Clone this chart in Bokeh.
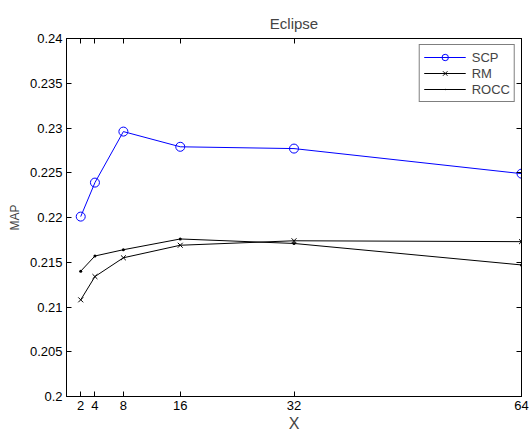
from bokeh.plotting import figure
from bokeh.models import Range1d, LinearAxis, FixedTicker, Legend, LegendItem, CustomJSTickFormatter
from bokeh.embed import file_html
from bokeh.resources import INLINE

x_vals = [2, 4, 8, 16, 32, 64]
scp = [0.2201, 0.2239, 0.2296, 0.2279, 0.2277, 0.2249]
rm = [0.2108, 0.2134, 0.2155, 0.2169, 0.2174, 0.2173]
rocc = [0.2140, 0.2157, 0.2164, 0.2176, 0.2171, 0.2147]
y_ticks = [0.2, 0.205, 0.21, 0.215, 0.22, 0.225, 0.23, 0.235, 0.24]
y_labels = ["0.2", "0.205", "0.21", "0.215", "0.22", "0.225", "0.23", "0.235", "0.24"]

FONT = "Liberation Sans"

p = figure(width=530, height=434, output_backend="svg", toolbar_location=None,
           x_range=Range1d(0, 64), y_range=Range1d(0.2, 0.24),
           min_border_left=66, min_border_right=9, min_border_top=38, min_border_bottom=37)
p.title.text = "Eclipse"
p.title.align = "center"
p.title.text_font = FONT
p.title.text_font_size = "15px"
p.title.text_font_style = "normal"
p.title.standoff = 13
p.grid.visible = False
p.outline_line_color = "black"
p.outline_line_width = 1
p.background_fill_color = "white"
p.border_fill_color = "white"

for ax in p.xaxis:
    ax.ticker = FixedTicker(ticks=x_vals)
    ax.axis_label = "X"
    ax.axis_label_text_font_size = "16px"
    ax.axis_label_text_font_style = "normal"
    ax.axis_label_text_font = FONT
    ax.axis_label_standoff = 2
for ax in p.yaxis:
    ax.ticker = FixedTicker(ticks=y_ticks)
    ax.major_label_overrides = {t: l for t, l in zip(y_ticks, y_labels)}
    ax.axis_label = "MAP"
    ax.axis_label_text_font_size = "12px"
    ax.axis_label_text_font_style = "normal"
    ax.axis_label_text_font = FONT
    ax.axis_label_standoff = 5

for ax in p.xaxis + p.yaxis:
    ax.major_tick_in = 5
    ax.major_tick_out = 0
    ax.minor_tick_in = 0
    ax.minor_tick_out = 0
    ax.major_label_text_font = FONT
    ax.major_label_text_font_size = "13px"
    ax.major_label_text_color = "black"
    ax.axis_line_color = "black"
    ax.major_tick_line_color = "black"
    ax.major_label_standoff = 4

empty = CustomJSTickFormatter(code="return '';")
top = LinearAxis(ticker=FixedTicker(ticks=x_vals), formatter=empty,
                 major_tick_in=5, major_tick_out=0, minor_tick_in=0, minor_tick_out=0,
                 major_label_text_font_size="0px", major_label_standoff=0)
right = LinearAxis(ticker=FixedTicker(ticks=y_ticks), formatter=empty,
                   major_tick_in=5, major_tick_out=0, minor_tick_in=0, minor_tick_out=0,
                   major_label_text_font_size="0px", major_label_standoff=0)
p.add_layout(top, "above")
p.add_layout(right, "right")

l1 = p.line(x_vals, scp, color="#0000ff", line_width=1)
m1 = p.scatter(x_vals, scp, marker="circle", size=9, fill_color=None, line_color="#0000ff", line_width=1)
l2 = p.line(x_vals, rm, color="black", line_width=1)
m2 = p.scatter(x_vals, rm, marker="x", size=7, line_color="black", line_width=1)
l3 = p.line(x_vals, rocc, color="black", line_width=1)
m3 = p.scatter(x_vals, rocc, marker="dot", size=12, fill_color="black", line_color="black")

legend = Legend(items=[
    LegendItem(label="SCP", renderers=[l1, m1]),
    LegendItem(label="RM", renderers=[l2, m2]),
    LegendItem(label="ROCC", renderers=[l3, m3]),
], location="top_right")
legend.label_text_font = FONT
legend.label_text_font_size = "13px"
legend.border_line_color = "black"
legend.border_line_width = 1
legend.glyph_width = 42
legend.glyph_height = 16
legend.label_height = 16
legend.spacing = 0
legend.padding = 4
legend.margin = 6
legend.label_standoff = 6
p.add_layout(legend)

open("out.html", "w").write(file_html(p, INLINE))
